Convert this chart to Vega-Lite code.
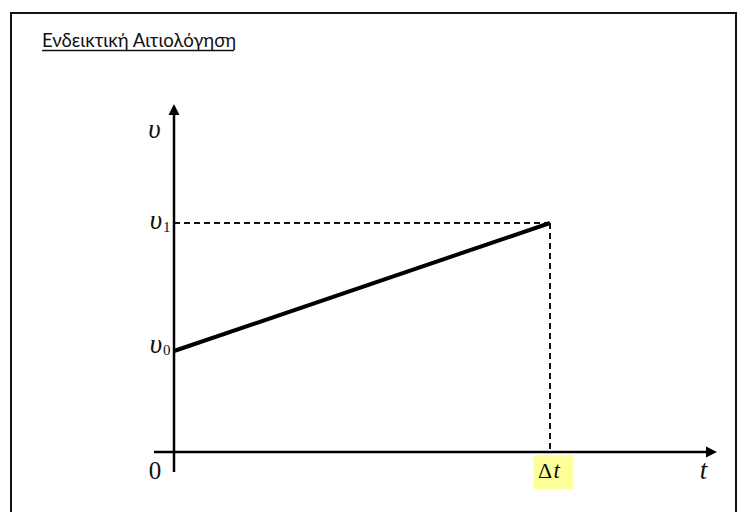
{
  "$schema": "https://vega.github.io/schema/vega-lite/v6.json",
  "width": 741,
  "height": 512,
  "autosize": {"type": "fit", "contains": "padding"},
  "padding": 0,
  "background": "white",
  "config": {"view": {"stroke": null}},
  "encoding": {
    "x": {"field": "x", "type": "quantitative", "scale": {"domain": [-0.46277, 1.50798], "nice": false, "zero": false}, "axis": null},
    "y": {"field": "y", "type": "quantitative", "scale": {"domain": [-0.6, 4.52], "nice": false, "zero": false}, "axis": null}
  },
  "layer": [
    {
      "data": {"values": [
        {"x": -0.4335, "y": 4.39, "x2": 1.4947, "y2": 4.39},
        {"x": -0.4335, "y": 4.40, "x2": -0.4335, "y2": -0.6},
        {"x": 1.4947, "y": 4.40, "x2": 1.4947, "y2": -0.6}
      ]},
      "mark": {"type": "rule", "color": "#111", "strokeWidth": 2, "clip": true},
      "encoding": {"x2": {"field": "x2"}, "y2": {"field": "y2"}}
    },
    {
      "data": {"values": [{"x": 0.957, "y": -0.03, "x2": 1.061, "y2": -0.37}]},
      "mark": {"type": "rect", "color": "#ffff99"},
      "encoding": {"x2": {"field": "x2"}, "y2": {"field": "y2"}}
    },
    {
      "data": {"values": [
        {"x": 0, "y": 2.29, "x2": 1, "y2": 2.29},
        {"x": 1, "y": 2.29, "x2": 1, "y2": 0}
      ]},
      "mark": {"type": "rule", "color": "#111", "strokeWidth": 2, "strokeDash": [6, 4]},
      "encoding": {"x2": {"field": "x2"}, "y2": {"field": "y2"}}
    },
    {
      "data": {"values": [
        {"x": 0, "y": -0.2, "x2": 0, "y2": 3.40},
        {"x": -0.0532, "y": 0, "x2": 1.415, "y2": 0}
      ]},
      "mark": {"type": "rule", "color": "#000", "strokeWidth": 2.5},
      "encoding": {"x2": {"field": "x2"}, "y2": {"field": "y2"}}
    },
    {
      "data": {"values": [{"x": 0, "y": 3.425}]},
      "mark": {"type": "point", "shape": "M-1,1L1,1L0,-1Z", "size": 121, "filled": true, "color": "#000", "opacity": 1}
    },
    {
      "data": {"values": [{"x": 1.4295, "y": 0}]},
      "mark": {"type": "point", "shape": "M-1,-1L1,0L-1,1Z", "size": 121, "filled": true, "color": "#000", "opacity": 1}
    },
    {
      "data": {"values": [{"x": 0, "y": 1.01, "x2": 1, "y2": 2.29}]},
      "mark": {"type": "rule", "color": "#000", "strokeWidth": 4},
      "encoding": {"x2": {"field": "x2"}, "y2": {"field": "y2"}}
    },
    {
      "data": {"values": [{"x": -0.3511, "y": 4.05, "label": "Ενδεικτική Αιτιολόγηση"}]},
      "mark": {"type": "text", "align": "left", "baseline": "alphabetic", "font": "Lato", "fontSize": 18.6, "color": "#111"},
      "encoding": {"text": {"field": "label"}}
    },
    {
      "data": {"values": [{"x": -0.3511, "y": 4.015, "x2": 0.1596, "y2": 4.015}]},
      "mark": {"type": "rule", "color": "#111", "strokeWidth": 1.4},
      "encoding": {"x2": {"field": "x2"}, "y2": {"field": "y2"}}
    },
    {
      "data": {"values": [
        {"x": -0.0519, "y": 3.14, "label": "υ"},
        {"x": -0.0479, "y": 2.23, "label": "υ"},
        {"x": -0.0479, "y": 0.99, "label": "υ"},
        {"x": 1.408, "y": -0.27, "label": "t"}
      ]},
      "mark": {"type": "text", "align": "center", "baseline": "alphabetic", "font": "Liberation Serif", "fontStyle": "italic", "fontSize": 27, "color": "#111"},
      "encoding": {"text": {"field": "label"}}
    },
    {
      "data": {"values": [{"x": -0.0505, "y": -0.27, "label": "0"}]},
      "mark": {"type": "text", "align": "center", "baseline": "alphabetic", "font": "Liberation Serif", "fontSize": 25, "color": "#111"},
      "encoding": {"text": {"field": "label"}}
    },
    {
      "data": {"values": [
        {"x": -0.0293, "y": 2.20, "label": "1"},
        {"x": -0.0293, "y": 0.97, "label": "0"}
      ]},
      "mark": {"type": "text", "align": "left", "baseline": "alphabetic", "font": "Liberation Serif", "fontSize": 15, "color": "#111"},
      "encoding": {"text": {"field": "label"}}
    },
    {
      "data": {"values": [{"x": 0.9867, "y": -0.26, "label": "Δ"}]},
      "mark": {"type": "text", "align": "center", "baseline": "alphabetic", "font": "Liberation Serif", "fontSize": 22, "color": "#111"},
      "encoding": {"text": {"field": "label"}}
    },
    {
      "data": {"values": [{"x": 1.009, "y": -0.26, "label": "t"}]},
      "mark": {"type": "text", "align": "left", "baseline": "alphabetic", "font": "Liberation Serif", "fontStyle": "italic", "fontSize": 23, "color": "#111"},
      "encoding": {"text": {"field": "label"}}
    }
  ]
}
